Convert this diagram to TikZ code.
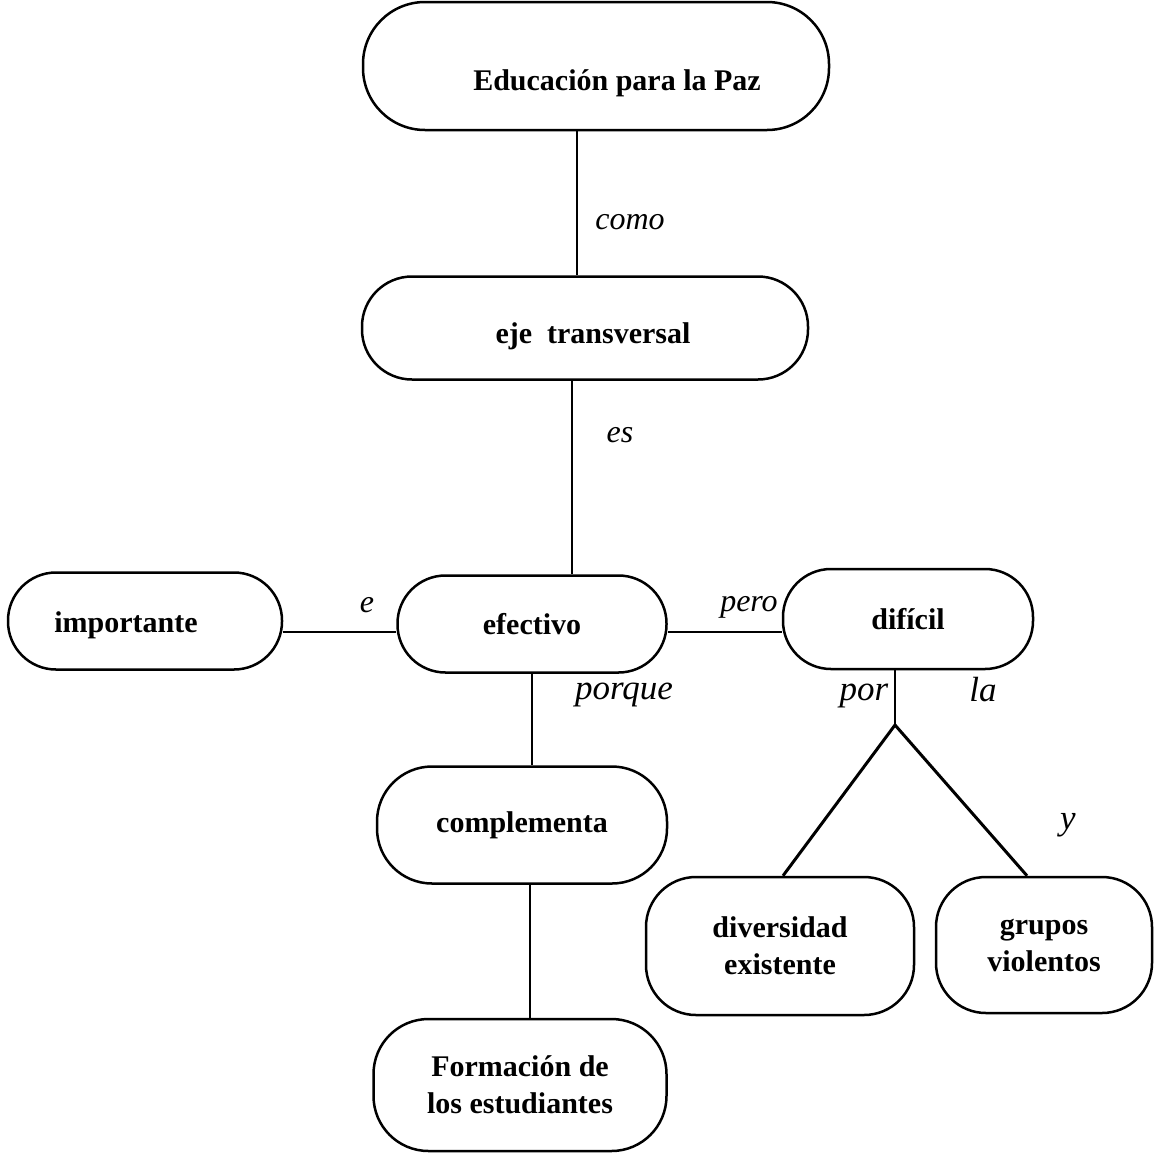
\documentclass[tikz,border=0pt]{standalone}
\usepackage{fontspec}
\setmainfont{Liberation Serif}
\usetikzlibrary{calc}
\newcommand{\offsettext}[3]{\raisebox{#2}[0.7em][0.2em]{\kern#1#3\kern-#1}}

\begin{document}
\begin{tikzpicture}[x=1pt,y=-1pt,line width=2.5pt,
  concept/.style={draw,rounded corners=48pt,align=center,inner sep=0pt,
    font=\fontsize{30}{37}\selectfont\bfseries},
  linkword/.style={inner sep=0pt,font=\fontsize{32}{36}\selectfont\itshape}]
\useasboundingbox (0,0) rectangle (1154,1152);
\node [concept,minimum width=466pt,minimum height=128pt,rounded corners=62pt] (edu) at (596,66) {\offsettext{21pt}{-17pt}{Educación para la Paz}};
\node [concept,minimum width=446pt,minimum height=103pt,rounded corners=50pt] (eje) at (585,328) {\offsettext{8pt}{-8pt}{eje\ \ transversal}};
\node [concept,minimum width=274pt,minimum height=97pt] (imp) at (145,621) {\offsettext{-19pt}{-4pt}{importante}};
\node [concept,minimum width=269pt,minimum height=97pt] (efe) at (532,624) {efectivo};
\node [concept,minimum width=250pt,minimum height=100pt] (dif) at (908,619) {difícil};
\node [concept,minimum width=290pt,minimum height=117pt,rounded corners=55pt] (com) at (522,825) {complementa};
\node [concept,minimum width=268pt,minimum height=138pt,rounded corners=50pt] (div) at (780,946) {diversidad\\existente};
\node [concept,minimum width=216pt,minimum height=136pt,rounded corners=50pt] (gru) at (1044,945) {grupos\\violentos};
\node [concept,minimum width=293pt,minimum height=132pt,rounded corners=55pt] (for) at (520,1085) {Formación de\\los estudiantes};
\coordinate (fork) at (895,725);
\draw ([xshift=-19pt]edu.south) -- ([xshift=-8pt]eje.north);
\draw ([xshift=-13pt]eje.south) -- ([xshift=40pt]efe.north);
\draw ([yshift=-11pt]imp.east) -- ([yshift=-8pt]efe.west);
\draw ([yshift=-8pt]efe.east) -- ([yshift=-13pt]dif.west);
\draw (efe.south) -- ([xshift=10pt]com.north);
\draw ([xshift=8pt]com.south) -- ([xshift=10pt]for.north);
\draw ([xshift=-13pt]dif.south) -- (fork);
\draw [line width=3pt] ([xshift=3pt]div.north) -- (fork) -- ([xshift=-17pt]gru.north);
\node [linkword] (como) at (630,222) {como};
\node [linkword] (es) at (620,435) {es};
\node [linkword] (e) at (367,605) {e};
\node [linkword] (pero) at (749,607) {pero};
\node [linkword,font=\fontsize{35}{40}\selectfont\itshape] (porque) at (624,695) {porque};
\node [linkword,font=\fontsize{35}{40}\selectfont\itshape] (por) at (864,696) {por};
\node [linkword,font=\fontsize{35}{40}\selectfont\itshape] (la) at (983,690) {la};
\node [linkword,font=\fontsize{35}{40}\selectfont\itshape] (y) at (1068,825) {y};
\end{tikzpicture}
\end{document}
